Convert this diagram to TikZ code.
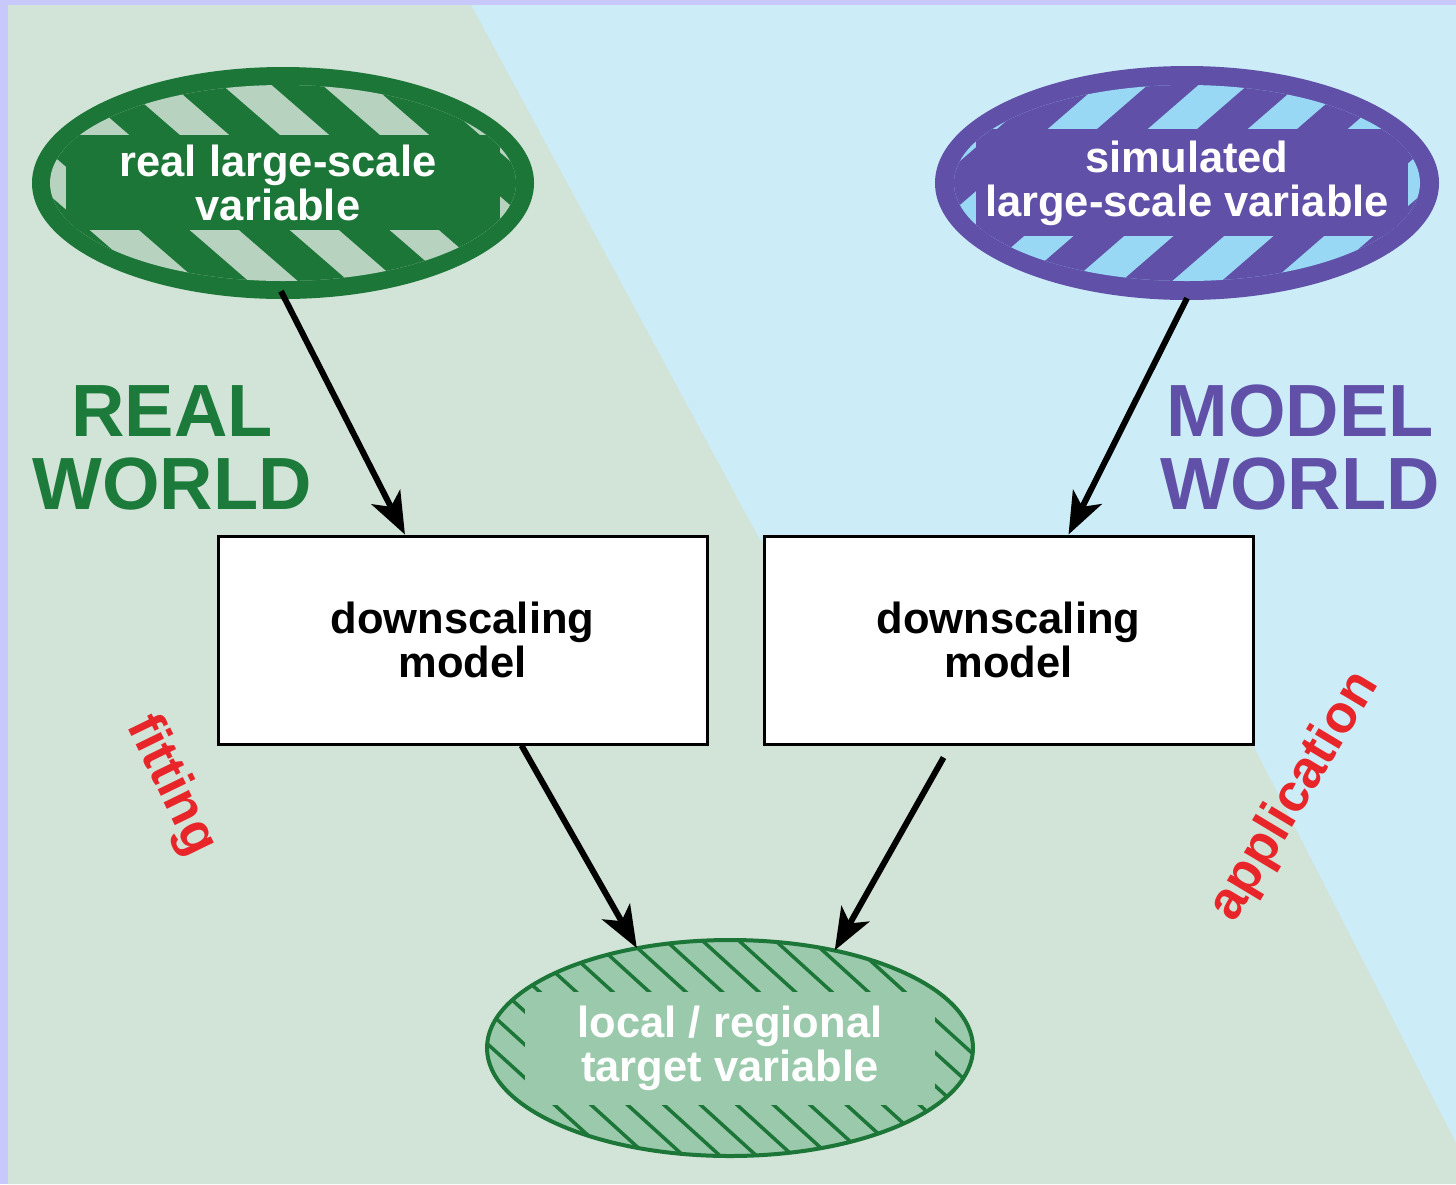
\documentclass[tikz,border=0pt]{standalone}
\usepackage{fontspec}
\setmainfont{Liberation Sans}
\usetikzlibrary{arrows.meta,calc,shapes.geometric}

\definecolor{lav}{RGB}{200,200,250}
\definecolor{bgg}{RGB}{210,227,216}
\definecolor{bgb}{RGB}{204,236,248}
\definecolor{dkg}{RGB}{28,118,56}
\definecolor{ltg}{RGB}{184,210,192}
\definecolor{pur}{RGB}{96,80,168}
\definecolor{ltb}{RGB}{152,216,244}
\definecolor{midg}{RGB}{155,201,171}
\definecolor{redt}{RGB}{232,38,42}
\definecolor{txtg}{RGB}{28,122,58}

\newcommand\bigtxt{\fontsize{43.5pt}{44pt}\selectfont\bfseries}
\newcommand\hugetxt{\fontsize{74pt}{73pt}\selectfont\bfseries}
\newcommand\redtxt{\fontsize{53pt}{53pt}\selectfont\bfseries}

\tikzset{
  varell/.style={ellipse, inner sep=0pt, align=center, font=\bigtxt, text=white},
  dsbox/.style={draw=black, line width=3pt, fill=white, minimum width=489pt, minimum height=208pt, inner sep=0pt, align=center, font=\bigtxt},
  worldtxt/.style={font=\hugetxt, align=center},
  proctxt/.style={font=\redtxt, text=redt},
  arr/.style={line width=6pt, -{Stealth[length=42pt,width=32pt,inset=11pt]}}
}

\begin{document}
\begin{tikzpicture}[x=1pt,y=-1pt]
\useasboundingbox (0,0) rectangle (1456,1184);
% background
\fill[lav] (0,0) rectangle (1456,1184);
\fill[bgb] (8,5) rectangle (1456,1184);
\fill[bgg] (8,5) -- (471,5) -- (760,540) -- (1253,745) -- (1456,1143) -- (1456,1184) -- (8,1184) -- cycle;

% green (real) ellipse decoration
\fill[dkg] (283,183) ellipse [x radius=251, y radius=116];
\begin{scope}
  \clip (283,183) ellipse [x radius=233, y radius=98];
  \fill[ltg] (30,60) rectangle (540,310);
  \foreach \k in {-3,...,4}
    \draw[dkg, line width=33pt] ({210+100*\k-150},53) -- ({210+100*\k+150},313);
  \fill[dkg] (66,135) rectangle (500,230);
\end{scope}

% purple (model) ellipse decoration
\fill[pur] (1187,183) ellipse [x radius=252, y radius=117];
\begin{scope}
  \clip (1187,183) ellipse [x radius=233, y radius=98];
  \fill[ltb] (930,60) rectangle (1445,310);
  \foreach \k in {-4,...,3}
    \draw[pur, line width=33pt] ({1260+100*\k+150},53) -- ({1260+100*\k-150},313);
  \fill[pur] (976,129) rectangle (1408,236);
\end{scope}

% bottom (target) ellipse decoration
\begin{scope}
  \clip (730,1048) ellipse [x radius=243, y radius=108];
  \fill[midg] (480,930) rectangle (980,1165);
  \foreach \k in {-13,...,8}
    \draw[dkg, line width=3.5pt] ({727+36.5*\k-44},923) -- ({727+36.5*\k+264},1203);
  \fill[midg] (525,992) rectangle (935,1105);
\end{scope}
\draw[dkg, line width=4pt] (730,1048) ellipse [x radius=243, y radius=108];

% nodes
\node[varell, minimum width=502pt, minimum height=232pt] (greal) at (283,183) {\hspace*{-10pt}real large-scale\\\hspace*{-10pt}variable};
\node[varell, minimum width=504pt, minimum height=234pt] (gsim) at (1187,183) {simulated\\large-scale variable};
\node[varell, minimum width=486pt, minimum height=216pt] (local) at (730,1048) {local / regional\\target variable};

\node[dsbox] (lbox) at (462.5,640) {downscaling\\model};
\node[dsbox] (rbox) at (1008.5,640) {downscaling\\model};

\node[worldtxt, text=txtg] (realw) at (172,448) {REAL\\WORLD};
\node[worldtxt, text=pur] (modelw) at (1300,448) {MODEL\\WORLD};

\node[proctxt, rotate=-64] (fit) at (171,786) {fitting};
\node[proctxt, rotate=59] (app) at (1295,797) {application};

% connectors
\draw[arr] ($(greal.south)+(-2,-8)$) -- ($(lbox.north west)!0.383!(lbox.north east)$);
\draw[arr] ($(gsim.south)+(0,-2)$) -- ($(rbox.north west)!0.622!(rbox.north east)$);
\draw[arr] ($(lbox.south west)!0.62!(lbox.south east)$) -- (local.133.5);
\draw[arr] ($(rbox.south west)!0.368!(rbox.south east)+(0,12)$) -- (local.43);
\end{tikzpicture}
\end{document}
